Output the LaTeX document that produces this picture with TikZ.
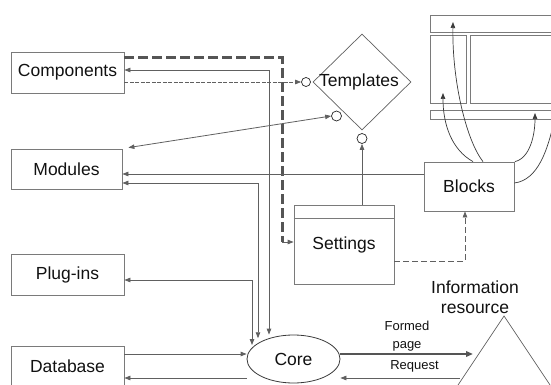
\documentclass[tikz,border=0pt]{standalone}
\usepackage{fontspec}
\setmainfont{Liberation Sans}
\usetikzlibrary{arrows.meta,shapes.geometric}

\definecolor{boxgray}{HTML}{7A7A7A}
\definecolor{linegray}{HTML}{606060}
\definecolor{dashgray}{HTML}{555555}
\definecolor{inkgray}{HTML}{3A3A3A}
\definecolor{txt}{HTML}{111111}

\begin{document}
\begin{tikzpicture}[x=1pt,y=-1pt,
  >={Triangle[length=6pt,width=4.5pt]},
  box/.style={draw=boxgray, line width=0.8pt, inner sep=0pt,
    font=\fontsize{17.5}{20}\selectfont, text=txt},
  link/.style={draw=linegray, line width=0.8pt},
  thickdash/.style={draw=dashgray, line width=3pt, dash pattern=on 10pt off 4pt},
  finedash/.style={draw=linegray, line width=0.7pt, dash pattern=on 4pt off 1.5pt},
  middash/.style={draw=linegray, line width=0.8pt, dash pattern=on 6pt off 3pt},
  port/.style={circle, draw=black!85, line width=0.7pt, inner sep=0pt, minimum size=10pt},
  bigtext/.style={font=\fontsize{17.5}{20}\selectfont, text=txt, inner sep=0pt},
  smalltext/.style={font=\fontsize{13}{18}\selectfont, text=txt, inner sep=0pt, align=center},
  panel/.style={draw=boxgray, line width=0.8pt},
  curvy/.style={draw=inkgray, line width=0.7pt, ->}
]
\useasboundingbox (0,0) rectangle (551,385);

% ---- left column of boxes ----
\node[box, minimum width=113pt, minimum height=41pt] (comp) at (67.5,72.5) {Components};
\node[box, minimum width=111pt, minimum height=40pt] (mod)  at (66.5,169)  {Modules};
\node[box, minimum width=113pt, minimum height=41pt] (plug) at (67.5,274.5) {Plug-ins};
\node[box, minimum width=113pt, minimum height=40pt] (db)   at (67.5,366)  {Database};

% ---- settings and blocks ----
\node[box, minimum width=100pt, minimum height=79pt] (set) at (344,244.5) {Settings};
\draw[panel] ([yshift=-14pt]set.north west) -- ([yshift=-14pt]set.north east);
\node[box, minimum width=90pt, minimum height=49pt] (blk) at (469,186.5) {Blocks};

% ---- core ----
\node[ellipse, draw=inkgray, line width=0.8pt, minimum width=93pt, minimum height=48pt,
      inner sep=0pt, font=\fontsize{17.5}{20}\selectfont, text=txt] (core) at (293.5,359) {Core};

% ---- templates diamond with its ports ----
\node[diamond, draw=linegray, line width=0.7pt, minimum width=98pt, minimum height=96pt,
      inner sep=0pt] (tpl) at (362,82) {};
\node[bigtext] (tpllabel) at (359,82) {Templates};
\node[port, minimum size=9pt] (c1) at (306,82) {};
\node[port] (c2) at (336.5,116) {};
\node[port] (c3) at (362,138.5) {};

% ---- page layout sketch ----
\draw[panel] (430,15) rectangle (575,32);
\draw[panel] (430,35) rectangle (466,103);
\draw[panel] (470,35) rectangle (575,103);
\draw[panel] (430,110) rectangle (575,119);
\coordinate (tLeft)  at (443,93);
\coordinate (tTop)   at (453,22);
\coordinate (tBot)   at (535,113);
\coordinate (tRight) at (556,112);

% ---- information resource ----
\draw[draw=linegray, line width=0.7pt] (504,316) -- (450,397) -- (558,397) -- cycle;
\node[smalltext, font=\fontsize{17.5}{20}\selectfont] (inforlabel) at (475,297) {Information\\resource};
\coordinate (fpEnd)   at (473,354);
\coordinate (rqStart) at (460,378);

% ---- connectors ----
% components: thick dashed route to settings
\coordinate (turn) at (282,242);
\draw[thickdash] (comp.east |- 0,58) -| (turn);
\draw[link,->] (turn) -- (set.west |- turn);
% components: fine dashed to the templates port
\draw[finedash,->] (comp.east |- c1.west) -- (c1.west);
% core links up to the left boxes
\draw[link,<->] (comp.east |- 0,70) -| (269,0 |- core.north);
\draw[link,<->] (mod.east |- 0,183) -| (258,0 |- core.140);
\draw[link,<->] (plug.east |- 0,280) -| (252,0 |- core.160);
% database and core
\draw[link,->] (db.east |- 0,354) -- (core.west |- 0,354);
\draw[link,->] (core.west |- 0,378) -- (db.east |- 0,378);
% blocks to modules
\draw[link,->] (blk.west |- 0,174) -- (mod.east |- 0,174);
% templates port and modules
\draw[link,<->] ([shift={(6pt,1pt)}]mod.north east) -- (c2.west);
% settings to templates port
\draw[link,->] (c3.south |- set.north) -- (c3.south);
% settings to blocks
\draw[middash,->] (set.east |- 0,261) -| (465,0 |- blk.south);
% blocks into the page layout
\draw[curvy] (473,0 |- blk.north) .. controls (452,150) and (443,125) .. (tLeft);
\draw[curvy] (483,0 |- blk.north) .. controls (466,140) and (452,80) .. (tTop);
\draw[curvy] (515,0 |- blk.north) .. controls (530,158) and (535,135) .. (tBot);
\draw[curvy] (blk.east |- 0,183) .. controls (538,180) and (548,150) .. (tRight);

% core and information resource
\draw[draw=dashgray, line width=1.8pt, -{Triangle[length=7pt,width=5.5pt]}] (core.east |- fpEnd) -- (fpEnd);
\node[smalltext] (fplabel) at (407,336) {Formed\\page};
\draw[link,->] (rqStart) -- (core.east |- rqStart);
\node[smalltext] (rqlabel) at (414.5,366) {Request};
\end{tikzpicture}
\end{document}
